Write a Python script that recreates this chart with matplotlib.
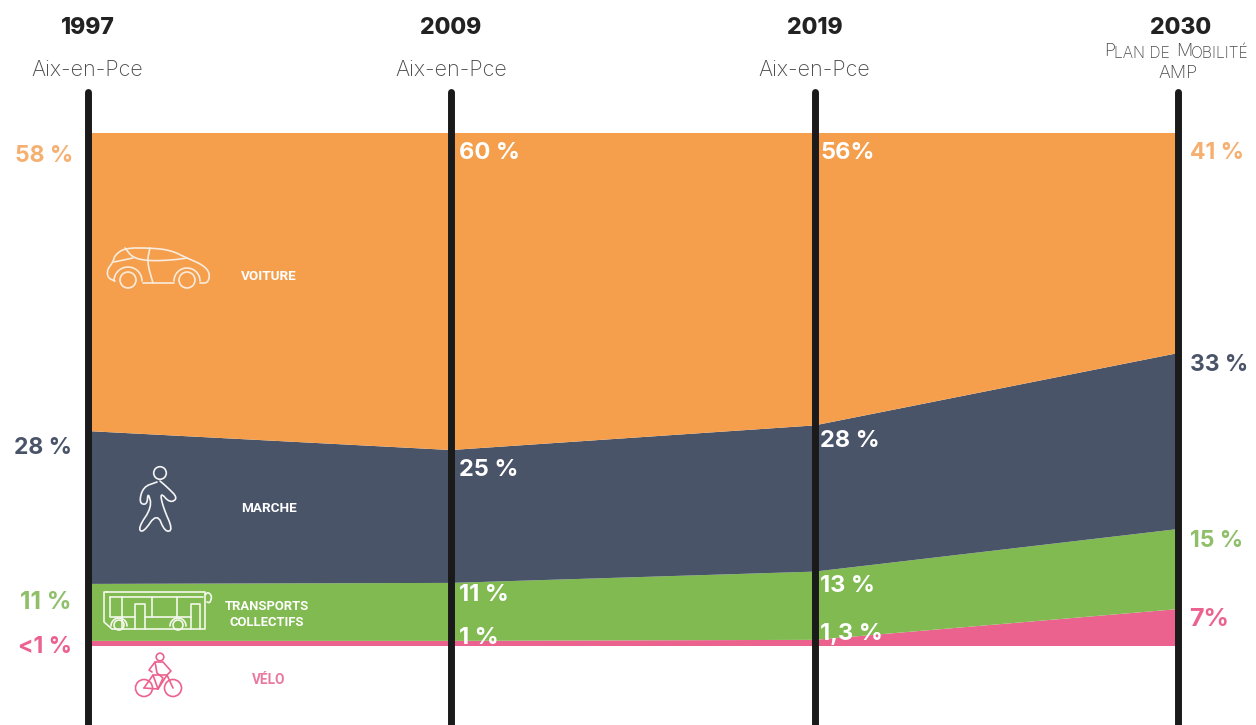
#!/usr/bin/env python3
"""Stacked area of travel modes, Aix-en-Provence 1997-2030"""

import matplotlib
matplotlib.use('Agg')
import matplotlib.pyplot as plt
from matplotlib.patches import Circle
from matplotlib.transforms import Affine2D
import numpy as np

plt.rcParams['font.family'] = ['Inter', 'DejaVu Sans']

years = ['1997', '2009', '2019', '2030']
places = ['Aix-en-Pce', 'Aix-en-Pce', 'Aix-en-Pce']

# drawn band heights (bottom to top)
velo = [1.0, 1.0, 1.2, 7.2]
transports = [11.1, 11.3, 13.3, 15.6]
marche = [29.8, 25.9, 28.5, 34.3]
voiture = [58.1, 61.8, 57.0, 42.9]

# labels as printed
velo_labels = ['<1 %', '1 %', '1,3 %', '7%']
transports_labels = ['11 %', '11 %', '13 %', '15 %']
marche_labels = ['28 %', '25 %', '28 %', '33 %']
voiture_labels = ['58 %', '60 %', '56%', '41 %']

ORANGE = '#F59F4C'
NAVY = '#4A5468'
GREEN = '#80BA50'
PINK = '#EC628F'
BLACK = '#1A1A1A'
GREY = '#4A4A4A'
CAR_LINE = '#F9EBDD'
WALK_LINE = '#F4F4F4'
BUS_LINE = '#F4F8EC'

W, H = 1256, 725
X0, X3 = 87.5, 1178
Y0, Y100 = 646, 133

fig = plt.figure(figsize=(W / 100, H / 100), dpi=100)
fig.patch.set_facecolor('white')
ax = fig.add_axes([0, 0, 1, 1])
step = (X3 - X0) / 3
unit = (Y0 - Y100) / 100
ax.set_xlim(-X0 / step, (W - X0) / step)
ax.set_ylim(-(H - Y0) / unit, Y0 / unit)
ax.axis('off')

# pixel coordinates for labels and pictograms (origin top-left)
px = Affine2D().scale(1 / W, -1 / H).translate(0, 1) + fig.transFigure

xs = np.arange(len(years))
ax.stackplot(xs, velo, transports, marche, voiture,
             colors=[PINK, GREEN, NAVY, ORANGE], linewidth=0, zorder=1)

# vertical year lines
for x in xs:
    ax.plot([x, x], [ax.get_ylim()[0], (Y0 - 92) / unit], color=BLACK, linewidth=5,
            solid_capstyle='round', zorder=3)


def label(x, y, s, color='white', size=17, weight='bold', ha='left', **kw):
    # +2: Inter sits a little high with va='center'
    ax.text(x, y + 2, s, transform=px, color=color, fontsize=size, fontweight=weight,
            ha=ha, va='center', zorder=5, **kw)


# header
for i, year in enumerate(years):
    cx = X0 + i * step + (3 if i == 3 else 0)
    label(cx, 26, year, color='#222222', size=16.5, weight='heavy', ha='center')
for i, place in enumerate(places):
    label(X0 + i * step, 68, place, color=GREY, size=15.5, weight='light', ha='center')
label(1104, 50, 'P', color=GREY, size=13, weight='light')
label(1114, 51, 'LAN DE', color=GREY, size=11.3, weight='light')
label(1176, 50, 'M', color=GREY, size=13, weight='light')
label(1191, 51, 'OBILITÉ', color=GREY, size=11.3, weight='light')
label(1178, 71, 'AMP', color=GREY, size=13, weight='light', ha='center')

# left and right columns of values
label(73, 154, voiture_labels[0], color='#F5B071', ha='right', size=16.5)
label(72, 446, marche_labels[0], color=NAVY, ha='right', size=16.5)
label(72, 601, transports_labels[0], color='#8FBF69', ha='right', size=17.5)
label(72, 645, velo_labels[0], color=PINK, ha='right', size=16.5)
label(1190, 151, voiture_labels[3], color='#F5B071', size=16.5)
label(1190, 363, marche_labels[3], color=NAVY, size=16.5)
label(1190, 539, transports_labels[3], color='#8FBF69', size=16.5)
label(1189, 618, velo_labels[3], color=PINK, size=18)

# values inside the bands
label(459, 151, voiture_labels[1])
label(459, 468, marche_labels[1])
label(459, 593, transports_labels[1])
label(459, 636, velo_labels[1])
label(820, 151, voiture_labels[2])
label(820, 439, marche_labels[2])
label(820, 584, transports_labels[2])
label(820, 632, velo_labels[2])

# mode names
label(269, 275, 'VOITURE', size=9.7, ha='center', family=['Roboto'])
label(269, 507, 'MARCHE', size=9.7, ha='center', family=['Roboto'])
label(267, 605, 'TRANSPORTS', size=9.4, ha='center', family=['Roboto'])
label(267, 621, 'COLLECTIFS', size=9.4, ha='center', family=['Roboto'])
label(269, 678, 'VÉLO', color='#E9799E', size=9.8, ha='center', family=['Roboto'])


def smooth(points, rounds=2):
    # corner cutting, keeps the end points
    pts = np.array(points, dtype=float)
    for _ in range(rounds):
        q = pts[:-1] * 0.75 + pts[1:] * 0.25
        r = pts[:-1] * 0.25 + pts[1:] * 0.75
        pts = np.vstack([pts[0], np.column_stack([q, r]).reshape(-1, 2), pts[-1]])
    return pts


def stroke(points, color=CAR_LINE, lw=1.2, rounded=False):
    pts = smooth(points) if rounded else np.array(points)
    ax.plot(pts[:, 0], pts[:, 1], transform=px, color=color, linewidth=lw,
            solid_joinstyle='round', solid_capstyle='round', zorder=4)


def ring(x, y, r, color=CAR_LINE, lw=1.2):
    ax.add_patch(Circle((x, y), r, transform=px, fill=False, edgecolor=color,
                        linewidth=lw, zorder=4))


def arch(x, y, r, color=CAR_LINE):
    t = np.radians(np.linspace(180, 360, 30))
    stroke(np.column_stack([x + r * np.cos(t), y + r * np.sin(t)]), color=color)


# car
stroke([(115, 281), (108, 278), (107, 270), (113, 262), (115, 255), (125, 248), (150, 248),
        (170, 250), (187, 258), (203, 265), (210, 273), (208, 283), (200, 283)], rounded=True)
stroke([(143, 283), (174, 283)])
stroke([(125, 248), (133, 258), (150, 261), (173, 260), (187, 258)], rounded=True)
stroke([(114, 262), (133, 258)])
stroke([(150, 248), (147, 262), (153, 283)], rounded=True)
arch(128, 281, 14)
arch(187, 281, 13)
ring(128, 280, 8)
ring(187, 280, 8)

# walker
ring(160, 473, 6.3, color=WALK_LINE)
stroke([(157, 482), (143, 487), (139, 503), (147, 505), (148, 492), (152, 507), (138, 528),
        (143, 533), (157, 513), (165, 532), (173, 530), (163, 507), (160, 492), (170, 503),
        (178, 498), (167, 487), (160, 481)], color=WALK_LINE, rounded=True)

# bus
stroke([(107, 592), (205, 592), (205, 629), (112, 629), (104, 622), (104, 592), (107, 592)],
       color=BUS_LINE)
stroke([(110, 597), (203, 597)], color=BUS_LINE)
stroke([(110, 597), (110, 617), (122, 617)], color=BUS_LINE)
stroke([(122, 597), (122, 629)], color=BUS_LINE)
stroke([(122, 617), (135, 617)], color=BUS_LINE)
stroke([(135, 629), (135, 604), (145, 604), (145, 629)], color=BUS_LINE)
stroke([(145, 617), (191, 617)], color=BUS_LINE)
stroke([(152, 597), (152, 617)], color=BUS_LINE)
stroke([(177, 597), (177, 617)], color=BUS_LINE)
stroke([(191, 629), (191, 604), (200, 604), (200, 629)], color=BUS_LINE)
stroke([(205, 595), (208, 592), (212, 596), (210, 603), (207, 602)], color=BUS_LINE, rounded=True)
arch(119, 626, 8, color=BUS_LINE)
arch(178, 626, 8, color=BUS_LINE)
ring(119, 625, 5, color=BUS_LINE)
ring(178, 625, 5, color=BUS_LINE)

# bike
ring(144, 688, 8.5, color=PINK)
ring(173, 688, 8.5, color=PINK)
ring(160, 657, 3.8, color=PINK)
stroke([(144, 688), (153, 675), (167, 675), (173, 688)], color=PINK)
stroke([(144, 688), (158, 689), (167, 675)], color=PINK)
stroke([(153, 675), (158, 689)], color=PINK)
stroke([(152, 672), (149, 670), (155, 662), (163, 662), (171, 671), (167, 675)], color=PINK)
stroke([(155, 662), (157, 673), (163, 678), (158, 689)], color=PINK)

fig.savefig('out.png', dpi=100, facecolor='white')
